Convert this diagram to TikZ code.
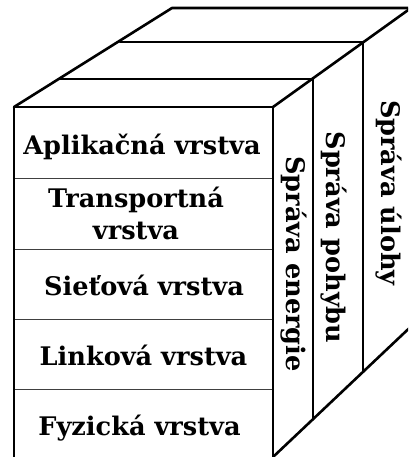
\documentclass[tikz,border=0pt]{standalone}
\usepackage{fontspec}
\setmainfont{DejaVu Serif}
\begin{document}
\begin{tikzpicture}[x=1pt,y=-1pt,
  edge/.style={line width=2.6pt,line cap=round,line join=round},
  sep/.style={line width=1pt,draw=black!75},
  lbl/.style={font=\fontsize{25.6}{32}\selectfont\bfseries,inner sep=0pt,anchor=base},
  vlbl/.style={lbl,rotate=-90}]
\useasboundingbox (0,0) rectangle (408,457);
\begin{scope}
\clip (0,0) rectangle (408,457);
% corners
\coordinate (fl) at (14,107);
\coordinate (fr) at (273,107);
\coordinate (flb) at (14,470);
\coordinate (frb) at (273,470);
\coordinate (a1) at (60,79);
\coordinate (b1) at (313,79);
\coordinate (a2) at (120,42);
\coordinate (b2) at (363,42);
\coordinate (a3) at (172,8);
\coordinate (b3) at (411,8);
\coordinate (b3r) at (430,8);
\coordinate (bb0) at (273,457);
\coordinate (bb1) at (313,419.5);
\coordinate (bb2) at (363,372);
\coordinate (bb3) at (420,318);
% separators
\foreach \y in {178,249,319,389} \draw[sep] (14,\y) -- (273,\y);
% front face
\draw[edge] (flb) -- (fl) -- (fr) -- (frb);
% top
\draw[edge] (fl) -- (a3) -- (b3r);
\draw[edge] (a1) -- (b1);
\draw[edge] (a2) -- (b2);
\draw[edge] (fr) -- (b3);
% side slabs
\draw[edge] (b1) -- (bb1);
\draw[edge] (b2) -- (bb2);
\draw[edge] (bb0) -- (bb3);
\end{scope}
% labels
\node[lbl] (app) at (142,155) {Aplikačná vrstva};
\node[lbl,align=center] (trans) at (136,239) {Transportná\\vrstva};
\node[lbl] (net) at (144,295) {Sieťová vrstva};
\node[lbl] (link) at (143.5,365) {Linková vrstva};
\node[lbl] (phy) at (139.5,435) {Fyzická vrstva};
\node[vlbl] (energy) at (286,264) {Správa energie};
\node[vlbl] (motion) at (326,237.5) {Správa pohybu};
\node[vlbl] (task) at (381,193) {Správa úlohy};
\end{tikzpicture}
\end{document}
